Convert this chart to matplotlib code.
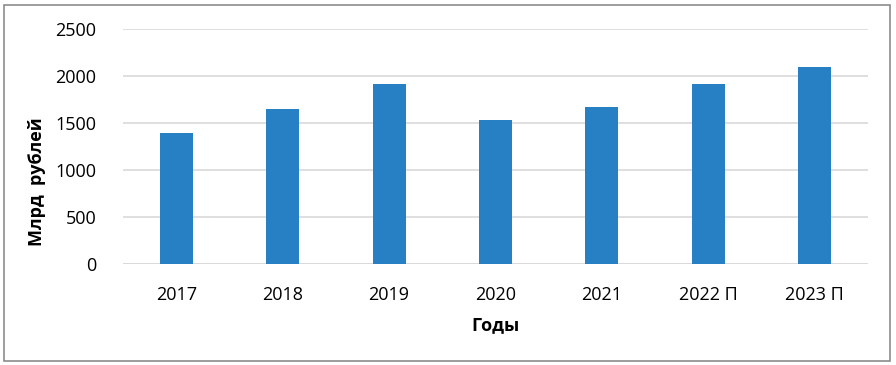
import matplotlib

matplotlib.use("Agg")
import matplotlib.pyplot as plt  # noqa: E402
from matplotlib.patches import Rectangle  # noqa: E402

years = ["2017", "2018", "2019", "2020", "2021", "2022 П", "2023 П"]
values = [1390, 1650, 1920, 1530, 1675, 1910, 2100]
y_ticks = [0, 500, 1000, 1500, 2000, 2500]

BAR = "#2880C4"
GRID = "#D9D9D9"

plt.rcParams["font.family"] = ["Open Sans", "DejaVu Sans"]

W, H = 896, 365
fig = plt.figure(figsize=(W / 100, H / 100), dpi=100)

# outer chart frame
fig.patches.append(Rectangle((4 / W, 1 - 361 / H), 886 / W, 356 / H, transform=fig.transFigure,
                             fill=False, edgecolor="#8C8C8C", lw=1.2))

ax = fig.add_axes([123 / W, 1 - 264 / H, 745 / W, 235 / H])
x = range(len(years))
ax.bar(x, values, width=0.31, color=BAR, zorder=3)
ax.set_xlim(-0.5, len(years) - 0.5)
ax.set_ylim(0, 2500)
ax.set_yticks(y_ticks)
ax.set_xticks(list(x))
ax.set_xticklabels(years)
ax.grid(axis="y", color=GRID, lw=1.2, zorder=0)
for s in ax.spines.values():
    s.set_visible(False)
ax.axhline(0, color=GRID, lw=1.2, zorder=1)
ax.tick_params(length=0, labelsize=13, colors="black")
ax.tick_params(axis="y", pad=19)
ax.tick_params(axis="x", pad=16)

ax.set_xlabel("Годы", fontsize=13, fontweight="bold", va="center")
ax.xaxis.set_label_coords(0.5, -(325 - 264) / 235)
ax.set_ylabel("Млрд  рублей", fontsize=13, fontweight="bold", va="center")
ax.yaxis.set_label_coords((37 - 123) / 745, (264 - 182) / 235)

fig.savefig("out.png", dpi=100)
